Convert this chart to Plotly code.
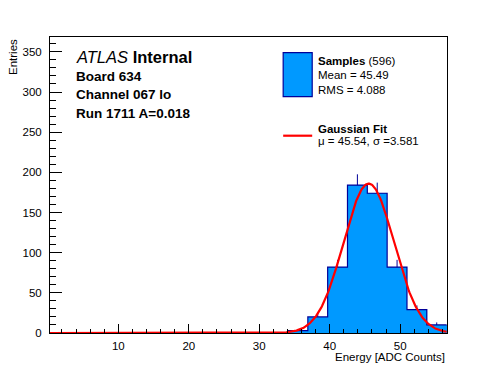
import numpy as np
import plotly.graph_objects as go

# ---- data ----
bin_low = 0.3
bin_high = 56.6
n_bins = 20
counts = [0, 0, 0, 0, 0, 0, 0, 0, 0, 0, 0, 0, 3, 20, 82, 184, 174, 82, 29, 10]
fit_mu = 45.54
fit_sigma = 3.581
fit_amp = 186.0
n_entries = 596
mean_val = 45.49
rms_val = 4.088
x_tick_vals = [10, 20, 30, 40, 50]
y_tick_vals = [0, 50, 100, 150, 200, 250, 300, 350]
y_max = 368.5

edges = np.linspace(bin_low, bin_high, n_bins + 1)
centers = 0.5 * (edges[:-1] + edges[1:])
width = edges[1] - edges[0]
counts_arr = np.array(counts, dtype=float)

FILL = "#0099ff"
EDGE = "#000099"
FONT = "Liberation Sans, Arial, Helvetica, sans-serif"

fig = go.Figure()

fig.add_trace(go.Bar(x=centers, y=counts_arr, width=width,
                     marker=dict(color=FILL, line=dict(width=0)),
                     showlegend=False, hoverinfo="skip"))

step_x = list(edges)
step_y = list(counts_arr) + [counts_arr[-1]]
fig.add_trace(go.Scatter(x=step_x, y=step_y, mode="lines",
                         line=dict(color=EDGE, width=1.2, shape="hv"),
                         showlegend=False, hoverinfo="skip"))

nz = counts_arr > 0
fig.add_trace(go.Scatter(x=centers[nz], y=counts_arr[nz], mode="markers",
                         marker=dict(size=0.1, color=EDGE),
                         error_y=dict(type="data", array=np.sqrt(counts_arr[nz]),
                                      arrayminus=np.zeros(nz.sum()), color=EDGE,
                                      thickness=1, width=0),
                         showlegend=False, hoverinfo="skip"))

xf = np.linspace(bin_low, bin_high, 600)
yf = fit_amp * np.exp(-0.5 * ((xf - fit_mu) / fit_sigma) ** 2)
fig.add_trace(go.Scatter(x=xf, y=yf, mode="lines",
                         line=dict(color="#ff0000", width=2.2),
                         showlegend=False, hoverinfo="skip"))

# screen pixel frame (page has an 8px body margin)
OFF = 8
W, H = 496 - 2 * OFF, 372 - 2 * OFF
L, R, T, B = 50.0, 446.7, 37.3, 333.3
def px(x):
    return (x - L) / (R - L)
def py(y):
    return (B - y) / (B - T)

ann = []
def add_text(text, x, y, size, anchor="left"):
    ann.append(dict(text=text, x=px(x), y=py(y), xref="paper", yref="paper",
                    xanchor=anchor, yanchor="middle", showarrow=False,
                    font=dict(family=FONT, size=size, color="black")))

add_text("<i>ATLAS</i> <b>Internal</b>", 73.5, 57.5, 16.5)
add_text("<b>Board 634</b>", 74, 76.5, 13.5)
add_text("<b>Channel 067 lo</b>", 74, 95, 13.5)
add_text("<b>Run 1711 A=0.018</b>", 74, 113.5, 13.5)

add_text(f"<b>Samples</b> ({n_entries})", 316, 61.5, 11.5)
add_text(f"Mean = {mean_val:.2f}", 316, 75.5, 11.5)
add_text(f"RMS = {rms_val:.3f}", 316, 90, 11.5)
add_text("<b>Gaussian Fit</b>", 316, 129.5, 11.5)
add_text(f"μ = {fit_mu:.2f}, σ ={fit_sigma:.3f}", 316, 141.5, 11.5)

ann.append(dict(text="Energy [ADC Counts]", x=1.0, y=py(357), xref="paper", yref="paper",
                xanchor="right", yanchor="middle", showarrow=False,
                font=dict(family=FONT, size=11.5, color="black")))
ann.append(dict(text="Entries", x=px(13), y=1.0, xref="paper", yref="paper",
                xanchor="center", yanchor="top", showarrow=False, textangle=-90,
                font=dict(family=FONT, size=11.5, color="black")))

shapes = [
    dict(type="rect", xref="paper", yref="paper", x0=px(283), x1=px(312),
         y0=py(97), y1=py(53), fillcolor=FILL, line=dict(color=EDGE, width=1.2)),
    dict(type="line", xref="paper", yref="paper", x0=px(283), x1=px(312),
         y0=py(136), y1=py(136), line=dict(color="#ff0000", width=2.2)),
]

fig.update_layout(
    width=W, height=H,
    margin=dict(l=L - OFF, r=W - (R - OFF), t=T - OFF, b=H - (B - OFF)),
    paper_bgcolor="white", plot_bgcolor="white",
    bargap=0,
    font=dict(family=FONT, size=11.5, color="black"),
    annotations=ann, shapes=shapes,
    xaxis=dict(range=[bin_low, bin_high + 0.05], showgrid=False, zeroline=False,
               showline=True, linecolor="black", linewidth=1, mirror=True,
               ticks="inside", ticklen=9, tickcolor="black", tickwidth=1,
               tickvals=x_tick_vals, ticktext=[str(v) for v in x_tick_vals],
               minor=dict(dtick=2, tick0=0, ticks="inside", ticklen=4.5,
                          tickcolor="black", showgrid=False),
               ticklabelstandoff=2,
               tickfont=dict(family=FONT, size=11.5)),
    yaxis=dict(range=[0, y_max], showgrid=False, zeroline=False,
               showline=True, linecolor="black", linewidth=1, mirror=True,
               ticks="inside", ticklen=12, tickcolor="black", tickwidth=1,
               tickvals=y_tick_vals, ticktext=[str(v) for v in y_tick_vals],
               minor=dict(dtick=10, tick0=0, ticks="inside", ticklen=6,
                          tickcolor="black", showgrid=False),
               ticklabelstandoff=5,
               tickfont=dict(family=FONT, size=11.5)),
)

fig.write_html("out.html")
